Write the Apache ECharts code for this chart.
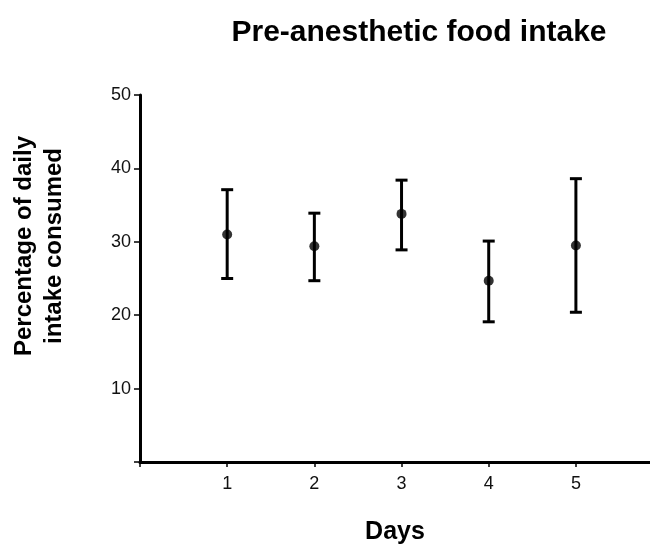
<!DOCTYPE html>
<html>
<head>
<meta charset="utf-8">
<script src="https://cdn.jsdelivr.net/npm/echarts@6/dist/echarts.min.js"></script>
<style>
  html, body { margin: 0; padding: 0; background: #fff; }
  #main { width: 650px; height: 544px; }
</style>
</head>
<body>
<div id="main"></div>
<script>
// days and measured values (mean with upper / lower error limits)
var days = [1, 2, 3, 4, 5];
var means = [31.0, 29.4, 33.8, 24.7, 29.5];
var upper = [37.1, 33.9, 38.4, 30.1, 38.6];
var lower = [25.0, 24.7, 28.9, 19.1, 20.4];
var yTicks = [10, 20, 30, 40, 50];

var font = 'Liberation Sans, Arial, sans-serif';
var chart = echarts.init(document.getElementById('main'));

var barData = days.map(function (d, i) {
  return [d, lower[i], upper[i]];
});
var pointData = days.map(function (d, i) {
  return [d, means[i]];
});

// draw one error bar: vertical line plus two caps
function renderBar(params, api) {
  var top = api.coord([api.value(0), api.value(2)]);
  var bot = api.coord([api.value(0), api.value(1)]);
  var half = 6;
  var st = { stroke: '#000', lineWidth: 3 };
  return {
    type: 'group',
    children: [
      { type: 'line', shape: { x1: top[0], y1: top[1], x2: bot[0], y2: bot[1] }, style: st },
      { type: 'line', shape: { x1: top[0] - half, y1: top[1], x2: top[0] + half, y2: top[1] }, style: st },
      { type: 'line', shape: { x1: bot[0] - half, y1: bot[1], x2: bot[0] + half, y2: bot[1] }, style: st }
    ]
  };
}

var option = {
  animation: false,
  backgroundColor: '#fff',
  title: {
    text: 'Pre-anesthetic food intake',
    left: 414,
    top: 13,
    textAlign: 'center',
    textStyle: { fontFamily: font, fontSize: 30, fontWeight: 'bold', color: '#000' }
  },
  // y axis title sits a bit above the axis middle in the original
  graphic: [{
    type: 'text',
    x: 39,
    y: 246,
    rotation: Math.PI / 2,
    style: {
      text: 'Percentage of daily\nintake consumed',
      fontFamily: font,
      fontSize: 24,
      fontWeight: 'bold',
      lineHeight: 30,
      fill: '#000',
      align: 'center',
      verticalAlign: 'middle'
    }
  }],
  grid: { left: 140, right: 0, top: 95, bottom: 82, outerBoundsMode: 'none' },
  xAxis: {
    type: 'value',
    min: 0,
    max: 5.85,
    interval: 1,
    name: 'Days',
    nameLocation: 'middle',
    nameGap: 58,
    nameTextStyle: { fontFamily: font, fontSize: 25, fontWeight: 'bold', color: '#000' },
    axisLine: { onZero: false, lineStyle: { color: '#000', width: 3 } },
    axisTick: { show: true, length: 5, lineStyle: { color: '#000', width: 1.5 } },
    axisLabel: {
      fontFamily: font, fontSize: 18, color: '#111', margin: 13,
      showMaxLabel: false,
      formatter: function (v) { return days.indexOf(v) >= 0 ? String(v) : ''; }
    },
    splitLine: { show: false }
  },
  yAxis: {
    type: 'value',
    min: 0,
    max: 50,
    interval: 10,
    axisLine: { show: true, lineStyle: { color: '#000', width: 3 } },
    axisTick: { show: true, length: 6, lineStyle: { color: '#000', width: 1.5 } },
    axisLabel: {
      fontFamily: font, fontSize: 18, color: '#111', margin: 9,
      formatter: function (v) { return yTicks.indexOf(v) >= 0 ? String(v) : ''; }
    },
    splitLine: { show: false }
  },
  series: [
    {
      type: 'custom',
      renderItem: renderBar,
      data: barData,
      encode: { x: 0, y: [1, 2] },
      z: 2
    },
    {
      type: 'scatter',
      data: pointData,
      symbol: 'circle',
      symbolSize: 10,
      itemStyle: { color: '#000' },
      z: 3
    }
  ]
};

chart.setOption(option);
</script>
</body>
</html>
